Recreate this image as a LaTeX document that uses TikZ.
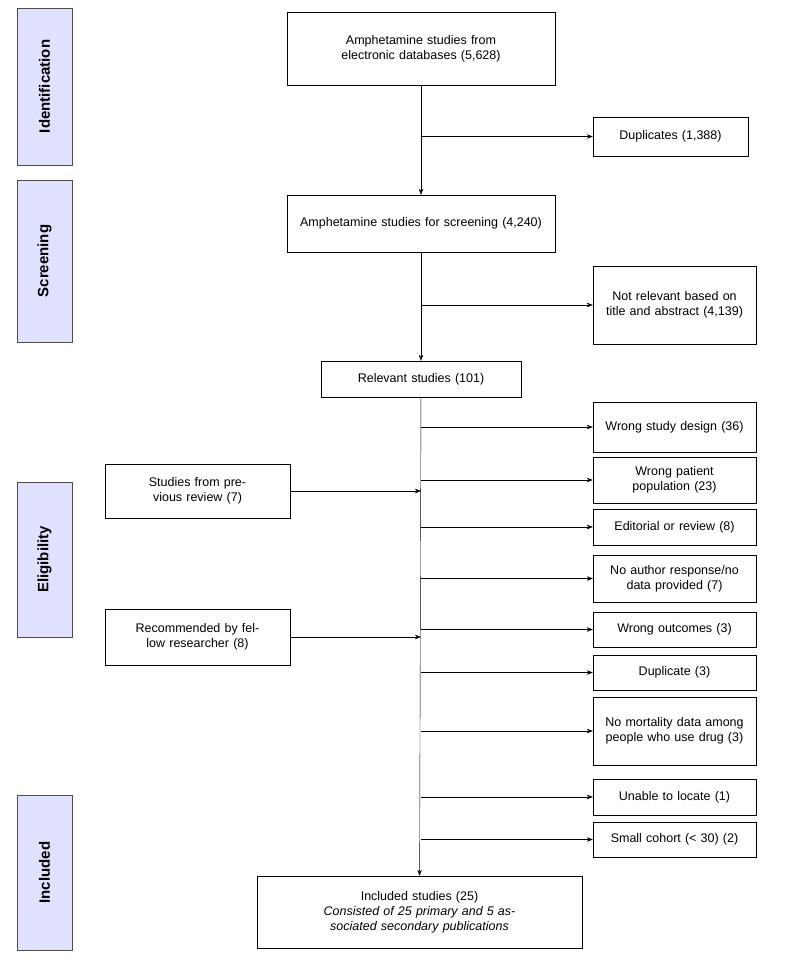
\documentclass[tikz,border=0pt]{standalone}
\usepackage{fontspec}
\setmainfont{Liberation Sans}
\usetikzlibrary{arrows.meta}
\begin{document}
\begin{tikzpicture}[x=1pt,y=-1pt,
  box/.style={draw,thin,align=center,font=\fontsize{12.5}{15}\selectfont,inner sep=2pt},
  side/.style={draw=black!70,fill=blue!15!cyan!10!white,fill=blue!12,font=\bfseries\fontsize{15}{18}\selectfont,rotate=90},
  arr/.style={-{Stealth[length=6pt,width=4.5pt]},thin}]
\useasboundingbox (0,0) rectangle (800,961);
\newcommand\bx[6]{\node[box,minimum width=#3-#2,minimum height=#5-#4,text width=#3-#2-8] (#1) at ({(#2+#3)/2},{(#4+#5)/2}) {#6};}
\newcommand\sd[5]{\node[side,minimum width=#4-#3,minimum height=55] (#1) at (44.5,{(#3+#4)/2}) {#5};}
\sd{s1}{}{8}{165}{Identification}
\sd{s2}{}{180}{342}{Screening}
\sd{s3}{}{482}{637}{Eligibility}
\sd{s4}{}{795}{950}{Included}
\bx{b1}{287}{555}{12}{85}{Amphetamine studies from electronic databases (5,628)}
\bx{b2}{287}{555}{195}{252}{Amphetamine studies for screening (4,240)}
\bx{b3}{321}{521}{361}{397}{Relevant studies (101)}
\bx{b4}{257}{582}{876}{948}{Included studies (25)\\\itshape Consisted of 25 primary and 5 associated secondary publications}
\bx{e0}{593}{748}{117}{156}{Duplicates (1,388)}
\bx{e1}{593}{756}{266}{344}{Not relevant based on title and abstract (4,139)}
\bx{e2}{593}{756}{402}{452}{Wrong study design (36)}
\bx{e3}{593}{756}{457}{503}{Wrong patient population (23)}
\bx{e4}{593}{756}{509}{545}{Editorial or review (8)}
\bx{e5}{593}{756}{555}{602}{No author response/no data provided (7)}
\bx{e6}{593}{756}{612}{647}{Wrong outcomes (3)}
\bx{e7}{593}{756}{655}{690}{Duplicate (3)}
\bx{e8}{593}{756}{697}{765}{No mortality data among people who use drug (3)}
\bx{e9}{593}{756}{779}{815}{Unable to locate (1)}
\bx{e10}{593}{756}{822}{857}{Small cohort (< 30) (2)}
\bx{l1}{105}{290}{464}{518}{Studies from previous review (7)}
\bx{l2}{105}{290}{609}{665}{Recommended by fellow researcher (8)}
\draw[arr] (b1) -- (b2);
\draw[arr] (b2) -- (b3);
\draw[arr] (b3) -- (b4);
\foreach \n in {e0,e1,e2,e3,e4,e5,e6,e7,e8,e9,e10}{
  \coordinate (j\n) at (421,0 |- \n.west);
  \draw[arr] (421,0 |- \n.west) -- (\n.west);}
\draw[arr] (l1.east) -- (421,0 |- l1.east);
\draw[arr] (l2.east) -- (421,0 |- l2.east);
\end{tikzpicture}
\end{document}
